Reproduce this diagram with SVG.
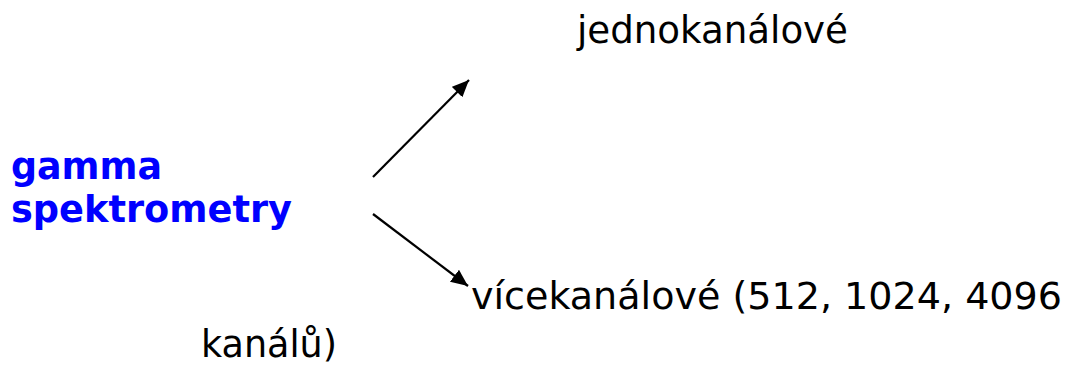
<svg xmlns="http://www.w3.org/2000/svg" width="1071" height="367" viewBox="0 0 1071 367">
<style>
.t{font-family:"DejaVu Sans","Verdana",sans-serif;font-size:37px;fill:#000}
.b{font-family:"DejaVu Sans","Verdana",sans-serif;font-size:38px;font-weight:bold;fill:#0000ff}
.c{stroke:#000;stroke-width:2.2;fill:none}
</style>
<defs>
<marker id="ah" markerUnits="userSpaceOnUse" markerWidth="20" markerHeight="16" refX="17" refY="7.5" orient="auto">
<path d="M0,0 L17,7.5 L0,15 z" fill="#000"/>
</marker>
</defs>
<rect width="1071" height="367" fill="#fff"/>
<g id="source">
<text class="b" x="11" y="179" textLength="151" lengthAdjust="spacingAndGlyphs">gamma</text>
<text class="b" x="11" y="222" textLength="281" lengthAdjust="spacingAndGlyphs">spektrometry</text>
</g>
<g id="single">
<text class="t" x="577" y="43" textLength="271" lengthAdjust="spacingAndGlyphs">jednokanálové</text>
</g>
<g id="multi">
<text class="t" x="471" y="309" textLength="591" lengthAdjust="spacingAndGlyphs">vícekanálové (512, 1024, 4096</text>
<text class="t" x="201" y="357" textLength="136" lengthAdjust="spacingAndGlyphs">kanálů)</text>
</g>
<g id="connectors">
<line class="c" x1="373" y1="177" x2="469" y2="80" marker-end="url(#ah)"/>
<line class="c" x1="373" y1="214" x2="468" y2="286" marker-end="url(#ah)"/>
</g>
</svg>
